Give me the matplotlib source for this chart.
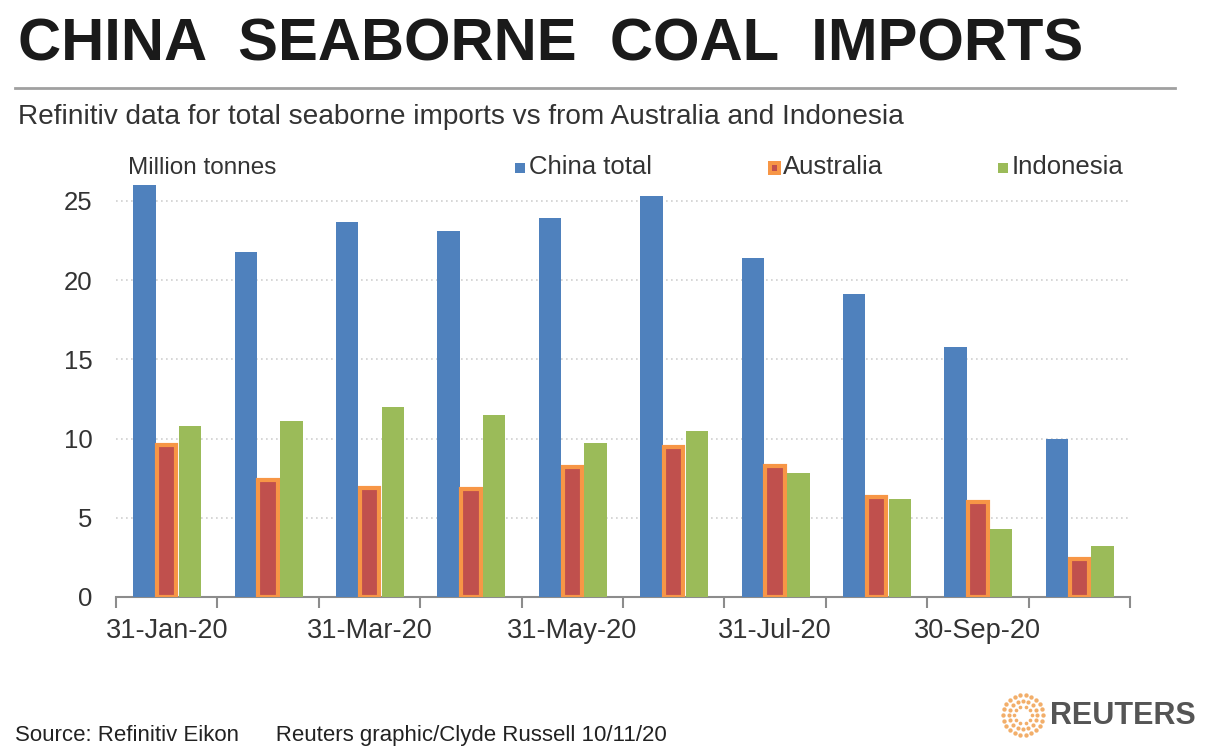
import matplotlib
matplotlib.use("Agg")
import matplotlib.pyplot as plt
import numpy as np

months = ["31-Jan-20", "29-Feb-20", "31-Mar-20", "30-Apr-20", "31-May-20",
          "30-Jun-20", "31-Jul-20", "31-Aug-20", "30-Sep-20", "31-Oct-20"]
china_total = [26.0, 21.8, 23.7, 23.1, 23.9, 25.3, 21.4, 19.1, 15.8, 10.0]
australia = [9.6, 7.4, 6.9, 6.8, 8.2, 9.5, 8.3, 6.3, 6.0, 2.4]
indonesia = [10.8, 11.1, 12.0, 11.5, 9.7, 10.5, 7.8, 6.2, 4.3, 3.2]
yticks = [0, 5, 10, 15, 20, 25]

W, H = 1208, 752
fig = plt.figure(figsize=(W / 100, H / 100), dpi=100)
fig.patch.set_facecolor("white")

FONT = ["Liberation Sans", "DejaVu Sans"]

# axes placement in pixels
x0, x1 = 116, 1130
yb = 597
ymax = 26.5
ppu = 15.84
yt = yb - ymax * ppu
ax = fig.add_axes([x0 / W, 1 - yb / H, (x1 - x0) / W, (yb - yt) / H])
ax.set_xlim(-0.5, 9.5)
ax.set_ylim(0, ymax)

x = np.arange(len(months))
bw = 0.22
ax.bar(x - bw, china_total, bw, color="#4F81BD", zorder=3)
ax.bar(x, australia, bw - 0.03, color="#C0504D", edgecolor="#F79646",
       linewidth=3, zorder=3)
ax.bar(x + bw + 0.01, indonesia, bw, color="#9BBB59", zorder=3)

for s in ["top", "right", "left"]:
    ax.spines[s].set_visible(False)
ax.spines["bottom"].set_color("#8C8C8C")
ax.spines["bottom"].set_linewidth(1.5)

ax.set_yticks(yticks)
ax.set_yticklabels([str(v) for v in yticks], family=FONT, fontsize=18.5, color="#333333")
ax.tick_params(axis="y", length=0, pad=17)
ax.yaxis.grid(True, linestyle=(0, (1, 2)), color="#D0D0D0", linewidth=1.2, zorder=0)

ax.set_xticks(np.arange(-0.5, 10, 1.0))
ax.set_xticklabels([])
ax.tick_params(axis="x", which="major", length=8, width=1.5, color="#8C8C8C", direction="out")
ax.set_xticks(x[::2], minor=True)
ax.set_xticklabels(months[::2], minor=True, family=FONT, fontsize=19.5, color="#333333")
ax.tick_params(axis="x", which="minor", length=0, pad=15)

# title and texts
fig.text(18 / W, 1 - 45 / H, "CHINA  SEABORNE  COAL  IMPORTS", family=FONT,
         fontsize=43, fontweight="bold", color="#1A1A1A", va="center", ha="left")
fig.add_artist(plt.Line2D([15 / W, 1175 / W], [1 - 88 / H, 1 - 88 / H], color="#A0A0A0", linewidth=2))
fig.text(18 / W, 1 - 117 / H, "Refinitiv data for total seaborne imports vs from Australia and Indonesia",
         family=FONT, fontsize=20.2, color="#333333", va="center", ha="left")
fig.text(128 / W, 1 - 168 / H, "Million tonnes", family=FONT, fontsize=17.5, color="#333333",
         va="center", ha="left")

# legend
leg_items = [(515, "#4F81BD", None, "China total"),
             (769, "#C0504D", "#F79646", "Australia"),
             (998, "#9BBB59", None, "Indonesia")]
for px, fc, ec, lab in leg_items:
    if ec:
        fig.patches.append(plt.Rectangle(((px - 1) / W, 1 - 175 / H), 13 / W, 14 / H,
                                         transform=fig.transFigure, facecolor=ec, edgecolor="none"))
        fig.patches.append(plt.Rectangle(((px + 3) / W, 1 - 171 / H), 5 / W, 6 / H,
                                         transform=fig.transFigure, facecolor=fc, edgecolor="none"))
    else:
        fig.patches.append(plt.Rectangle((px / W, 1 - 173 / H), 10 / W, 10 / H,
                                         transform=fig.transFigure, facecolor=fc, edgecolor="none"))
    fig.text((px + 14) / W, 1 - 167 / H, lab, family=FONT, fontsize=18.5, color="#333333",
             va="center", ha="left")

# footer
fig.text(15 / W, 1 - 735 / H, "Source: Refinitiv Eikon      Reuters graphic/Clyde Russell 10/11/20",
         family=FONT, fontsize=16, color="#222222", va="center", ha="left")

# Reuters logo (approximate)
lax = fig.add_axes([1000 / W, 1 - 738 / H, 46 / W, 46 / H])
lax.set_xlim(-1.1, 1.1)
lax.set_ylim(-1.1, 1.1)
lax.axis("off")
for r, n, sz in [(0.95, 22, 10), (0.68, 16, 9), (0.42, 10, 7)]:
    ang = np.linspace(0, 2 * np.pi, n, endpoint=False)
    lax.scatter(r * np.cos(ang), r * np.sin(ang), s=sz, color="#F0A050", alpha=0.85, linewidths=0)
fig.text(1050 / W, 1 - 716 / H, "REUTERS", family=FONT, fontsize=22,
         fontweight="bold", color="#555555", va="center", ha="left")

fig.savefig("out.png", dpi=100, facecolor="white")
